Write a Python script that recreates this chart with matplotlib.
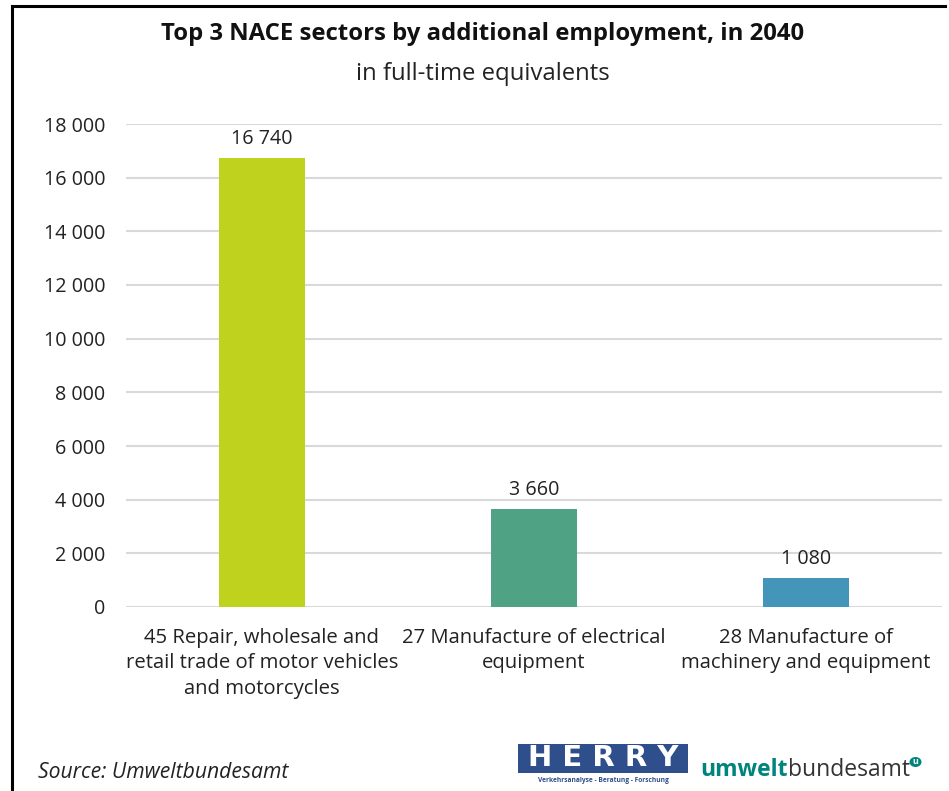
import matplotlib
matplotlib.use("Agg")
import matplotlib.pyplot as plt
from matplotlib.patches import Rectangle, Circle
from matplotlib.lines import Line2D
from matplotlib.ticker import FuncFormatter

categories = ["45 Repair, wholesale and\nretail trade of motor vehicles\nand motorcycles",
              "27 Manufacture of electrical\nequipment",
              "28 Manufacture of\nmachinery and equipment"]
values = [16740, 3660, 1080]
colors = ["#BED21E", "#4FA384", "#4396BA"]
yticks = [0, 2000, 4000, 6000, 8000, 10000, 12000, 14000, 16000, 18000]

plt.rcParams['font.family'] = ['Open Sans', 'DejaVu Sans']

W, H = 949, 791
fig = plt.figure(figsize=(W/100, H/100), dpi=100)
ax = fig.add_axes([126/W, 1-607/H, (942-126)/W, (607-124)/H])

def fmt(v):
    return f"{int(v):,}".replace(",", " ")

x = list(range(len(values)))
ax.bar(x, values, width=0.316, color=colors, zorder=3)
for xi, v in zip(x, values):
    ax.annotate(fmt(v), (xi, v), xytext=(0, 6.5), textcoords="offset points",
                ha="center", va="bottom", fontsize=14.2, color="#222222")

ax.set_xlim(-0.5, 2.5)
ax.set_ylim(0, 18000)
ax.set_yticks(yticks)
ax.yaxis.set_major_formatter(FuncFormatter(lambda v, p: fmt(v)))
ax.set_xticks(x)
ax.set_xticklabels(categories, fontsize=14.6, color="#222222", linespacing=1.36)
ax.tick_params(axis="y", length=0, pad=15, labelsize=14.2, labelcolor="#222222")
ax.tick_params(axis="x", length=0, pad=15)
ax.grid(axis="y", color="#D9D9D9", linewidth=1.5, zorder=0)
for s in ax.spines.values():
    s.set_visible(False)

fig.text(483/W, 1-34/H, "Top 3 NACE sectors by additional employment, in 2040",
         ha="center", va="center", fontsize=17.2, fontweight="bold", color="#111111")
fig.text(483/W, 1-74/H, "in full-time equivalents", ha="center", va="center",
         fontsize=17.2, color="#222222")
fig.text(38/W, 1-772/H, "Source: Umweltbundesamt", ha="left", va="center",
         fontsize=15.2, style="italic", color="#222222")

# frame lines
fig.add_artist(Line2D([12/W, 12/W], [0, 1-6/H], color="black", linewidth=2.2))
fig.add_artist(Line2D([12/W, 945/W], [1-6/H, 1-6/H], color="black", linewidth=2.2))

# HERRY logo
fig.add_artist(Rectangle((518/W, 1-773/H), 170/W, 29/H, facecolor="#2F4F8C",
                         edgecolor="none", transform=fig.transFigure))
fig.text(603/W, 1-758/H, "H E R R Y", ha="center", va="center", fontsize=21,
         fontweight="bold", color="white", family="DejaVu Sans")
fig.text(603/W, 1-781/H, "Verkehrsanalyse - Beratung - Forschung", ha="center",
         va="center", fontsize=4.8, fontweight="bold", color="#2F4F8C")

# umweltbundesamt logo
t1 = fig.text(700/W, 1-770/H, "umwelt", ha="left", va="center", fontsize=16.5,
              fontweight="bold", color="#00857C")
fig.canvas.draw()
bb = t1.get_window_extent()
t2 = fig.text(bb.x1/W, 1-770/H, "bundesamt", ha="left", va="center", fontsize=16.5,
              color="#333333")
fig.canvas.draw()
bb2 = t2.get_window_extent()
cx, cy = bb2.x1 + 6, H - 762
fig.add_artist(Circle((cx/W, cy/H), 6/W, facecolor="#00857C", edgecolor="none",
                      transform=fig.transFigure))
fig.text(cx/W, cy/H, "u", ha="center", va="center", fontsize=6.5, fontweight="bold",
         color="white")

fig.savefig("out.png", dpi=100)
